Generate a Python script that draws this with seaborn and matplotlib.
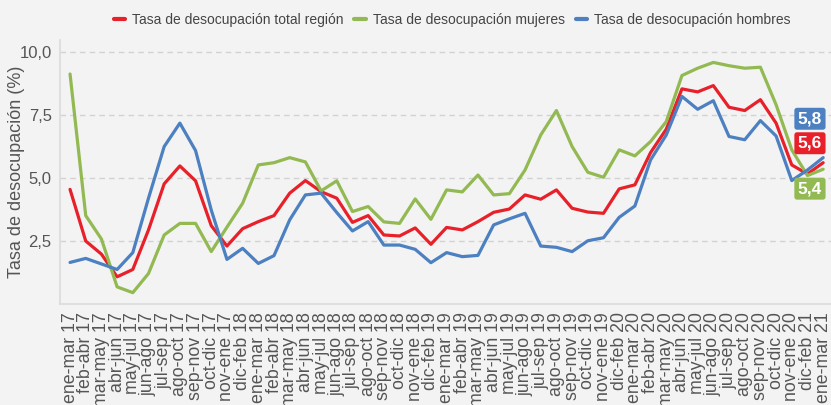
import numpy as np
import pandas as pd
import seaborn as sns
import matplotlib.pyplot as plt

# rolling quarters, ene-mar 17 .. ene-mar 21
periodos = [
    "ene-mar 17", "feb-abr 17", "mar-may 17", "abr-jun 17", "may-jul 17", "jun-ago 17",
    "jul-sep 17", "ago-oct 17", "sep-nov 17", "oct-dic 17", "nov-ene 17",
    "dic-feb 18", "ene-mar 18", "feb-abr 18", "mar-may 18", "abr-jun 18", "may-jul 18",
    "jun-ago 18", "jul-sep 18", "ago-oct 18", "sep-nov 18", "oct-dic 18", "nov-ene 18",
    "dic-feb 19", "ene-mar 19", "feb-abr 19", "mar-may 19", "abr-jun 19", "may-jul 19",
    "jun-ago 19", "jul-sep 19", "ago-oct 19", "sep-nov 19", "oct-dic 19", "nov-ene 19",
    "dic-feb 20", "ene-mar 20", "feb-abr 20", "mar-may 20", "abr-jun 20", "may-jul 20",
    "jun-ago 20", "jul-sep 20", "ago-oct 20", "sep-nov 20", "oct-dic 20", "nov-ene 20",
    "dic-feb 21", "ene-mar 21",
]

total = [4.55, 2.5, 1.98, 1.08, 1.37, 2.94, 4.77, 5.48, 4.89, 3.11, 2.30,
         2.99, 3.27, 3.51, 4.40, 4.90, 4.46, 4.20, 3.24, 3.51, 2.74, 2.70, 3.02,
         2.37, 3.04, 2.94, 3.27, 3.64, 3.77, 4.33, 4.16, 4.53, 3.80, 3.65, 3.60,
         4.57, 4.73, 6.01, 6.94, 8.54, 8.42, 8.67, 7.81, 7.68, 8.11, 7.18, 5.52,
         5.16, 5.61]
mujeres = [9.13, 3.51, 2.58, 0.68, 0.45, 1.21, 2.74, 3.20, 3.20, 2.08, 3.05,
           4.00, 5.52, 5.61, 5.81, 5.64, 4.49, 4.89, 3.67, 3.87, 3.26, 3.20, 4.17,
           3.36, 4.53, 4.45, 5.12, 4.33, 4.38, 5.32, 6.71, 7.68, 6.25, 5.23, 5.03,
           6.12, 5.88, 6.45, 7.24, 9.07, 9.36, 9.59, 9.46, 9.36, 9.40, 7.91, 6.12,
           5.10, 5.35]
hombres = [1.65, 1.81, 1.59, 1.37, 2.04, 4.20, 6.25, 7.18, 6.09, 3.73, 1.77,
           2.21, 1.61, 1.92, 3.34, 4.33, 4.40, 3.63, 2.90, 3.27, 2.34, 2.34, 2.17,
           1.64, 2.04, 1.88, 1.93, 3.14, 3.38, 3.60, 2.30, 2.25, 2.08, 2.51, 2.63,
           3.44, 3.89, 5.72, 6.71, 8.24, 7.73, 8.07, 6.65, 6.52, 7.28, 6.67, 4.90,
           5.32, 5.81]

series = ["Tasa de desocupación total región", "Tasa de desocupación mujeres",
          "Tasa de desocupación hombres"]
colores = ["#E8202A", "#92B952", "#4C80C0"]
etiquetas = ["5,6", "5,4", "5,8"]

bg = "#F3F3F3"
sns.set_style("white")
plt.rcParams["font.family"] = ["Liberation Sans", "DejaVu Sans"]

df = pd.DataFrame({
    "i": list(range(len(periodos))) * 3,
    "valor": total + mujeres + hombres,
    "serie": [s for s in series for _ in periodos],
})

fig = plt.figure(figsize=(8.31, 4.05), dpi=100, facecolor=bg)
ax = fig.add_axes([60 / 831, 1 - 304 / 405, 1 - 60 / 831, 264 / 405])
ax.set_facecolor(bg)

sns.lineplot(data=df, x="i", y="valor", hue="serie", hue_order=series,
             palette=colores, linewidth=2.3, ax=ax, legend=False)

ax.set_xlim(-0.64, 48.5)
ax.set_ylim(0, 10.48)
ax.set_yticks([2.5, 5.0, 7.5, 10.0])
ax.set_yticklabels(["2,5", "5,0", "7,5", "10,0"], fontsize=12, color="#555555")
ax.set_xticks(range(len(periodos)))
ax.set_xticklabels(periodos, rotation=90, fontsize=12.8, color="#555555")
ax.grid(axis="y", linestyle=(0, (4, 3)), color="#D2D2D2", linewidth=1)
ax.set_axisbelow(True)
for s in ["top", "right"]:
    ax.spines[s].set_visible(False)
for s in ["left", "bottom"]:
    ax.spines[s].set_color("#DCDCDC")
    ax.spines[s].set_linewidth(1.3)
ax.tick_params(axis="y", length=4, color="#999999", pad=2)
ax.tick_params(axis="x", length=4, color="#666666", pad=2)
ax.set_xlabel("")
ax.set_ylabel("Tasa de desocupación (%)", fontsize=13, color="#555555")
ax.yaxis.set_label_coords(-0.045, 0.5)

# end-of-line value boxes
ultimo = len(periodos) - 1
finales = [total[-1], mujeres[-1], hombres[-1]]
offsets = [14, -14, 28]
for val, col, txt, dy in zip(finales, colores, etiquetas, offsets):
    ax.annotate(txt, xy=(ultimo, val), xytext=(-9.5, dy), textcoords="offset points",
                ha="center", va="center", color="white", fontsize=12.5,
                fontweight="bold",
                bbox=dict(boxstyle="round,pad=0.2,rounding_size=0.15", fc=col, ec="none"),
                annotation_clip=False)

handles = [plt.Line2D([], [], color=c, linewidth=3) for c in colores]
fig.legend(handles, series, loc="center", bbox_to_anchor=(452 / 831, 1 - 20 / 405),
           ncol=3, frameon=False, handlelength=0.8, handletextpad=0.5,
           columnspacing=0.8, prop={"size": 10}, labelcolor="#444444")

fig.savefig("out.png", dpi=100, facecolor=bg)
